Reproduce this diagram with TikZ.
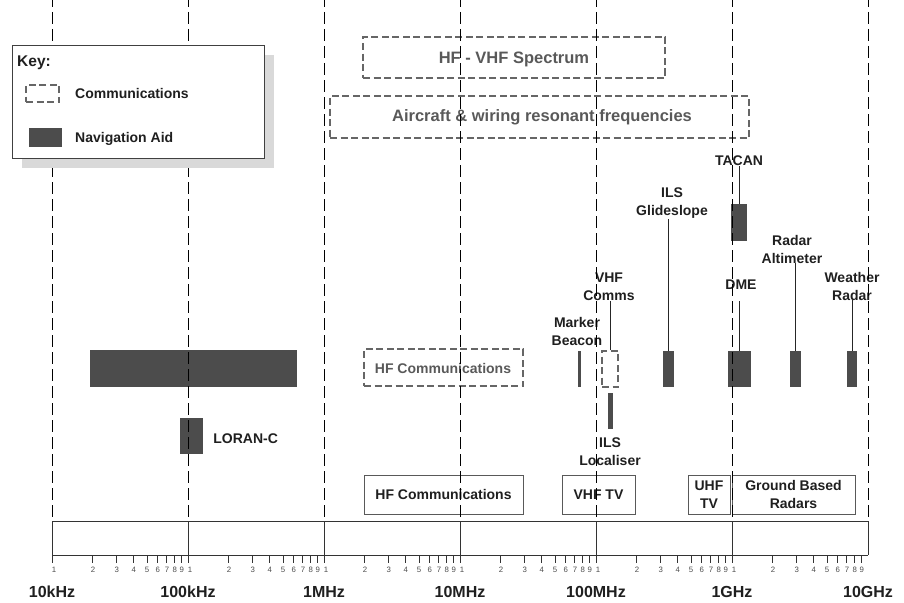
\documentclass[tikz,border=0pt]{standalone}
\usepackage{fontspec}
\setmainfont{Liberation Sans}
\usetikzlibrary{positioning}

\begin{document}
\begin{tikzpicture}[x=1pt,y=-1pt,
  lbl/.style={font=\fontsize{14}{18}\selectfont\bfseries, text=black!88, align=center, inner sep=0pt},
  greylbl/.style={font=\fontsize{14}{18}\selectfont\bfseries, text=black!65},
  navaid/.style={fill=black!70, draw=none, inner sep=0pt},
  commbox/.style={draw=black!60, line width=1.2pt, dash pattern=on 7pt off 3.5pt, inner sep=0pt},
  bandbox/.style={draw=black!65, line width=0.9pt, inner sep=0pt, minimum height=39pt, lbl},
  decade/.style={draw=black, line width=1pt, dash pattern=on 12pt off 5pt, dash phase=5pt},
  axisline/.style={draw=black!80, line width=0.9pt},
  lead/.style={draw=black!85, line width=0.9pt},
  ticklbl/.style={font=\fontsize{7.8}{9}\selectfont, text=black!70, inner sep=0pt},
  declbl/.style={font=\fontsize{16}{18}\selectfont\bfseries, text=black!88, inner sep=0pt}]
\useasboundingbox (0,0) rectangle (904,602);

% spectrum bands at the top
\node[commbox, minimum width=302pt, minimum height=41pt] (hfvhf) at (514,57.5) {};
\node[greylbl, font=\fontsize{16.5}{18}\selectfont\bfseries] (hfvhflbl) at (514,59) {HF - VHF Spectrum};
\node[commbox, minimum width=419pt, minimum height=42pt] (resonant) at (539.5,117) {};
\node[greylbl, font=\fontsize{16.5}{18}\selectfont\bfseries] (resonantlbl) at (542,117) {Aircraft \& wiring resonant frequencies};

% navigation aids and comms
\node[navaid, minimum width=207pt, minimum height=37pt] (omega) at (193.5,368.5) {};
\node[navaid, minimum width=23pt, minimum height=36pt] (loran) at (191.5,436) {};
\node[lbl, right=10pt of loran, yshift=-3pt] (loranlbl) {LORAN-C};

\node[commbox, minimum width=159pt, minimum height=37pt] (hfcomm) at (443.5,367.5) {};
\node[greylbl] (hfcommlbl) at (443,368) {HF Communications};

\node[navaid, minimum width=3pt, minimum height=36pt] (marker) at (579.5,369) {};
\node[lbl] (markerlbl) at (577,331) {Marker\\Beacon};

\node[commbox, minimum width=16pt, minimum height=36pt] (vhfcomm) at (610,369) {};
\node[lbl] (vhfcommlbl) at (609,287) {VHF\\Comms};
\draw[lead] (vhfcomm.north) -- (vhfcomm.north |- vhfcommlbl.south);

\node[navaid, minimum width=5pt, minimum height=36pt] (loc) at (610.5,411) {};
\node[lbl] (loclbl) at (610,452) {ILS\\Localiser};

\node[navaid, minimum width=11pt, minimum height=36pt] (glide) at (668.5,369) {};
\node[lbl] (glidelbl) at (672,203) {ILS\\Glideslope};
\draw[lead] (glide.north) -- (glide.north |- glidelbl.south);

\node[navaid, minimum width=16pt, minimum height=37pt] (tacan) at (739,222.5) {};
\node[lbl] (tacanlbl) at (739,161) {TACAN};
\draw[lead] (tacan.north) -- (tacan.north |- tacanlbl.south);

\node[navaid, minimum width=23pt, minimum height=36pt] (dme) at (739.5,369) {};
\node[lbl] (dmelbl) at (741,285) {DME};
\coordinate (dmetop) at (739.5,301);
\draw[lead] (dme.north) -- (dmetop);

\node[navaid, minimum width=11pt, minimum height=36pt] (radalt) at (795.5,369) {};
\node[lbl] (radaltlbl) at (792,249) {Radar\\Altimeter};
\draw[lead] (radalt.north) -- (radalt.north |- radaltlbl.south);

\node[navaid, minimum width=10pt, minimum height=36pt] (wx) at (852,369) {};
\node[lbl] (wxlbl) at (852,286) {Weather\\Radar};
\draw[lead] (wx.north) -- (wx.north |- wxlbl.south);

% broadcast and ground bands
\node[bandbox, minimum width=159pt] (hfband) at (443.5,494.5) {HF Communications};
\node[bandbox, minimum width=73pt] (vhftv) at (598.5,494.5) {VHF TV};
\node[bandbox, minimum width=42pt] (uhftv) at (709,494.5) {UHF\\TV};
\node[bandbox, minimum width=123pt] (gbr) at (793.5,494.5) {Ground Based\\Radars};

% frequency scale
\draw[axisline] (52,521) -- (868,521);
\draw[axisline] (52,555) -- (868,555);
\draw[axisline] (868,521) -- (868,555);
\foreach \d in {0,...,5}{
  \draw[axisline] ({52+136*\d},521) -- ++(0,42);
  \node[ticklbl] (one\d) at ({54+136*\d},570) {1};
  \foreach \k in {2,...,9}{
    \draw[axisline] ({52+136*\d+136*ln(\k)/ln(10)},555) -- ++(0,8);
    \node[ticklbl] (t\d\k) at ({52+136*\d+136*ln(\k)/ln(10)},570) {\k};
  }
}
\foreach \d/\f in {0/10kHz,1/100kHz,2/1MHz,3/10MHz,4/100MHz,5/1GHz,6/10GHz}{
  \node[declbl] (dec\d) at ({52+136*\d},592) {\f};
  \draw[decade] ({52+136*\d},0) -- ({52+136*\d},521);
}

% key
\fill[black!15] (22,55) rectangle (274,168);
\node[draw=black!75, line width=0.9pt, fill=white, minimum width=252pt, minimum height=113pt, inner sep=0pt] (key) at (138,101.5) {};
\node[lbl, anchor=west, font=\fontsize{15.5}{18}\selectfont\bfseries] (keylbl) at (17,63) {Key:};
\node[commbox, minimum width=33pt, minimum height=17pt] (keycomm) at (42.5,93.5) {};
\node[lbl, anchor=west] (keycommlbl) at (75,93) {Communications};
\node[navaid, minimum width=33pt, minimum height=19pt] (keynav) at (45.5,137.5) {};
\node[lbl, anchor=west] (keynavlbl) at (75,139) {Navigation Aid};
\end{tikzpicture}
\end{document}
